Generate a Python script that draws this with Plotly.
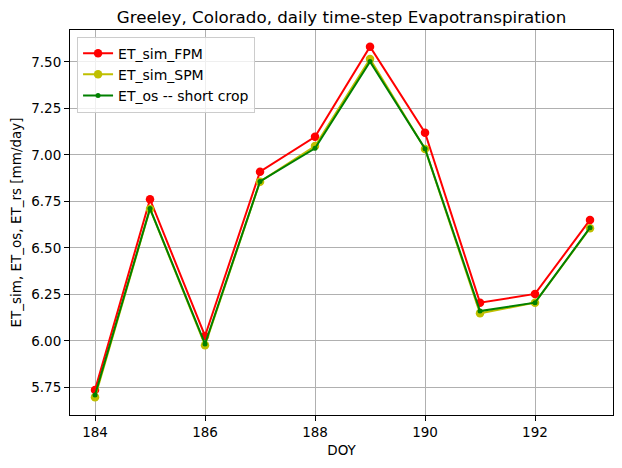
import plotly.graph_objects as go

doy = [184, 185, 186, 187, 188, 189, 190, 191, 192, 193]
et_sim_fpm = [5.737, 6.762, 6.027, 6.910, 7.098, 7.582, 7.120, 6.206, 6.253, 6.651]
et_sim_spm = [5.697, 6.710, 5.977, 6.856, 7.048, 7.516, 7.032, 6.149, 6.206, 6.606]
et_os = [5.710, 6.712, 5.984, 6.858, 7.036, 7.502, 7.034, 6.161, 6.206, 6.609]

x_ticks = [184, 186, 188, 190, 192]

fig = go.Figure()
fig.add_trace(go.Scatter(x=doy, y=et_sim_fpm, mode="lines+markers", name="ET_sim_FPM",
                         line=dict(color="#ff0000", width=2), marker=dict(size=8.5, color="#ff0000")))
fig.add_trace(go.Scatter(x=doy, y=et_sim_spm, mode="lines+markers", name="ET_sim_SPM",
                         line=dict(color="#bfbf00", width=2), marker=dict(size=8.5, color="#bfbf00")))
fig.add_trace(go.Scatter(x=doy, y=et_os, mode="lines+markers", name="ET_os -- short crop",
                         line=dict(color="#008000", width=2), marker=dict(size=5, color="#008000")))

axis_common = dict(showline=True, linecolor="black", linewidth=1, mirror=True,
                   showgrid=True, gridcolor="#b0b0b0", gridwidth=1,
                   ticks="outside", ticklen=5, tickcolor="black",
                   tickfont=dict(size=13.5, color="black"), zeroline=False)

fig.update_layout(
    width=622, height=468,
    margin=dict(l=70, r=9, t=30, b=53),
    paper_bgcolor="white", plot_bgcolor="white",
    font=dict(family="DejaVu Sans", color="black"),
    title=dict(text="Greeley, Colorado, daily time-step Evapotranspiration",
               x=(70 + 613) / 2 / 622, xanchor="center", y=1 - 17 / 468, yanchor="middle",
               font=dict(size=16.7)),
    xaxis=dict(range=[183.545, 193.418], tickvals=x_ticks,
               title=dict(text="DOY", font=dict(size=13.5), standoff=6), **axis_common),
    yaxis=dict(range=[5.602, 7.672], tick0=5.75, dtick=0.25, tickformat=".2f",
               title=dict(text="ET_sim, ET_os, ET_rs [mm/day]", font=dict(size=13.5), standoff=6),
               **axis_common),
    legend=dict(x=0.013, y=0.983, xanchor="left", yanchor="top",
                bgcolor="rgba(255,255,255,0.8)", bordercolor="#cccccc", borderwidth=1,
                font=dict(size=14), tracegroupgap=0, itemwidth=30),
    showlegend=True,
)

fig.write_html("out.html")
